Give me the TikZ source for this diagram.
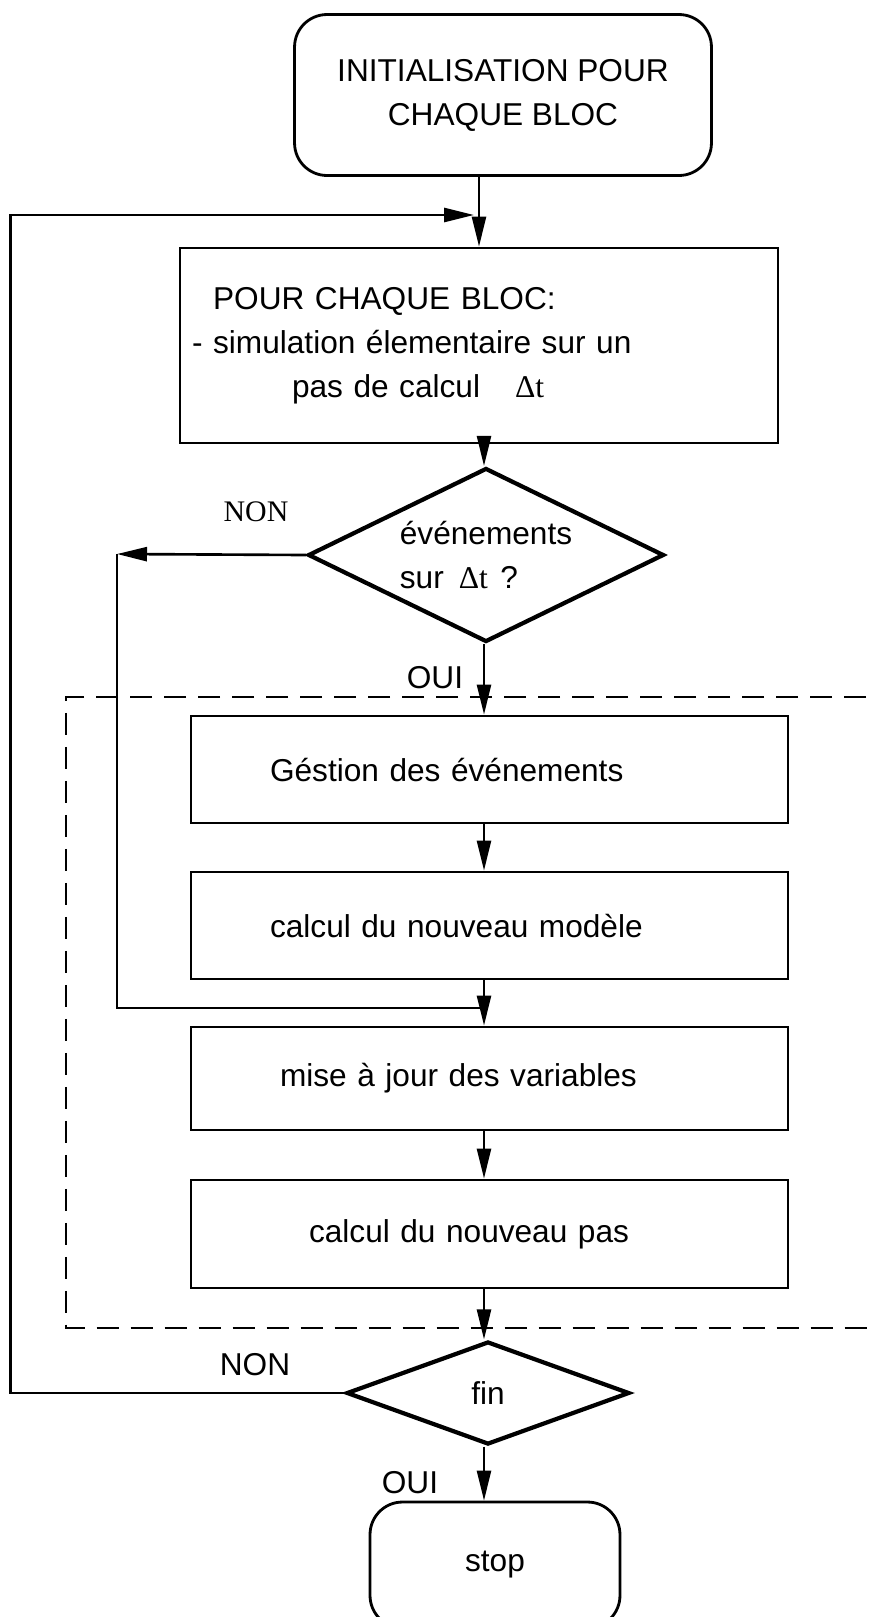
\documentclass[tikz,border=0pt]{standalone}
\usepackage{fontspec}
\setmainfont{Liberation Sans}
\newfontfamily\timesfont{Liberation Serif}
\usetikzlibrary{arrows.meta, shapes.geometric, positioning}

\begin{document}
\begin{tikzpicture}[x=0.02cm, y=-0.02cm,
  every node/.style={font=\fontsize{18pt}{25pt}\selectfont},
  stepbox/.style={draw, line width=1.6pt, inner xsep=0pt, inner ysep=0pt,
    text width=11.94cm, align=left, minimum height=2.14cm},
  endbox/.style={draw, line width=1.6pt, rounded corners=0.65cm, align=center},
  testbox/.style={draw, diamond, line width=2.4pt, inner sep=0pt, aspect=2},
  arr/.style={line width=1.5pt, -{Triangle[length=0.6cm, width=0.28cm]}},
  frame/.style={line width=1.4pt, dash pattern=on 0.44cm off 0.24cm}]

  % page frame
  \useasboundingbox (0,0) rectangle (874,1617);
  \clip (0,0) rectangle (874,1617);

  % main column
  \node[endbox, minimum width=8.34cm, minimum height=3.22cm] (init) at (503,95)
    {INITIALISATION POUR\\CHAQUE BLOC};
  \node[stepbox, text width=11.96cm, minimum height=3.9cm] (main) at (479,345.5)
    {\hspace*{0.66cm}POUR CHAQUE BLOC:\\
     \hspace*{0.24cm}- simulation élementaire sur un\\
     \hspace*{2.24cm}pas de calcul\hspace{0.7cm}{\timesfont\fontsize{18pt}{20pt}\selectfont Δt}};
  \node[testbox, minimum width=7.12cm, minimum height=3.48cm, align=left] (ev) at (486,555)
    {événements\\sur\hspace{0.3cm}{\timesfont\fontsize{18pt}{20pt}\selectfont Δt}\hspace{0.25cm}?};
  \node[stepbox] (gest) at (489.5,769.5) {\hspace*{1.58cm}Géstion des événements};
  \node[stepbox] (modele) at (489.5,925.5) {\hspace*{1.58cm}calcul du nouveau modèle};
  \node[stepbox, minimum height=2.06cm] (maj) at (489.5,1078.5) {\hspace*{1.78cm}mise à jour des variables};
  \node[stepbox, minimum height=2.16cm] (pas) at (489.5,1234) {\hspace*{2.36cm}calcul du nouveau pas};
  \node[testbox, minimum width=5.66cm, minimum height=2.06cm] (fin) at (488,1393) {fin};
  \node[endbox, minimum width=5cm, minimum height=2.52cm] (stop) at (495,1565) {stop};

  % branch labels
  \node[font=\timesfont\fontsize{17pt}{19pt}\selectfont] (non1) at (256,512) {NON};
  \node (oui1) at (435,678) {OUI};
  \node (non2) at (255,1365) {NON};
  \node (oui2) at (410,1483) {OUI};

  % dashed frame round the event part
  \draw[frame] (900,697) -- (66,697) -- (66,1328) -- (900,1328);

  % connectors
  \coordinate (axis) at (484,0);
  \coordinate (loopin) at (474,215);
  \coordinate (nonleft) at (117,554);
  \coordinate (nonjoin) at (484,1008);
  \draw[arr] (init.south -| main.north) -- (main.north);
  \draw[arr] (fin.west) -- ++(-334,0) |- (loopin);
  \draw[arr] (main.south -| axis) -- (ev.north -| axis);
  \draw[arr] (ev.west) -- (nonleft);
  \draw[line width=1.5pt] (nonleft) |- (nonjoin);
  \draw[arr] (ev.south -| axis) -- (gest.north -| axis);
  \draw[arr] (gest.south -| axis) -- (modele.north -| axis);
  \draw[arr] (modele.south -| axis) -- (maj.north -| axis);
  \draw[arr] (maj.south -| axis) -- (pas.north -| axis);
  \draw[arr] (pas.south -| axis) -- (fin.north -| axis);
  \draw[arr] (fin.south -| axis) -- (stop.north -| axis);
\end{tikzpicture}
\end{document}
